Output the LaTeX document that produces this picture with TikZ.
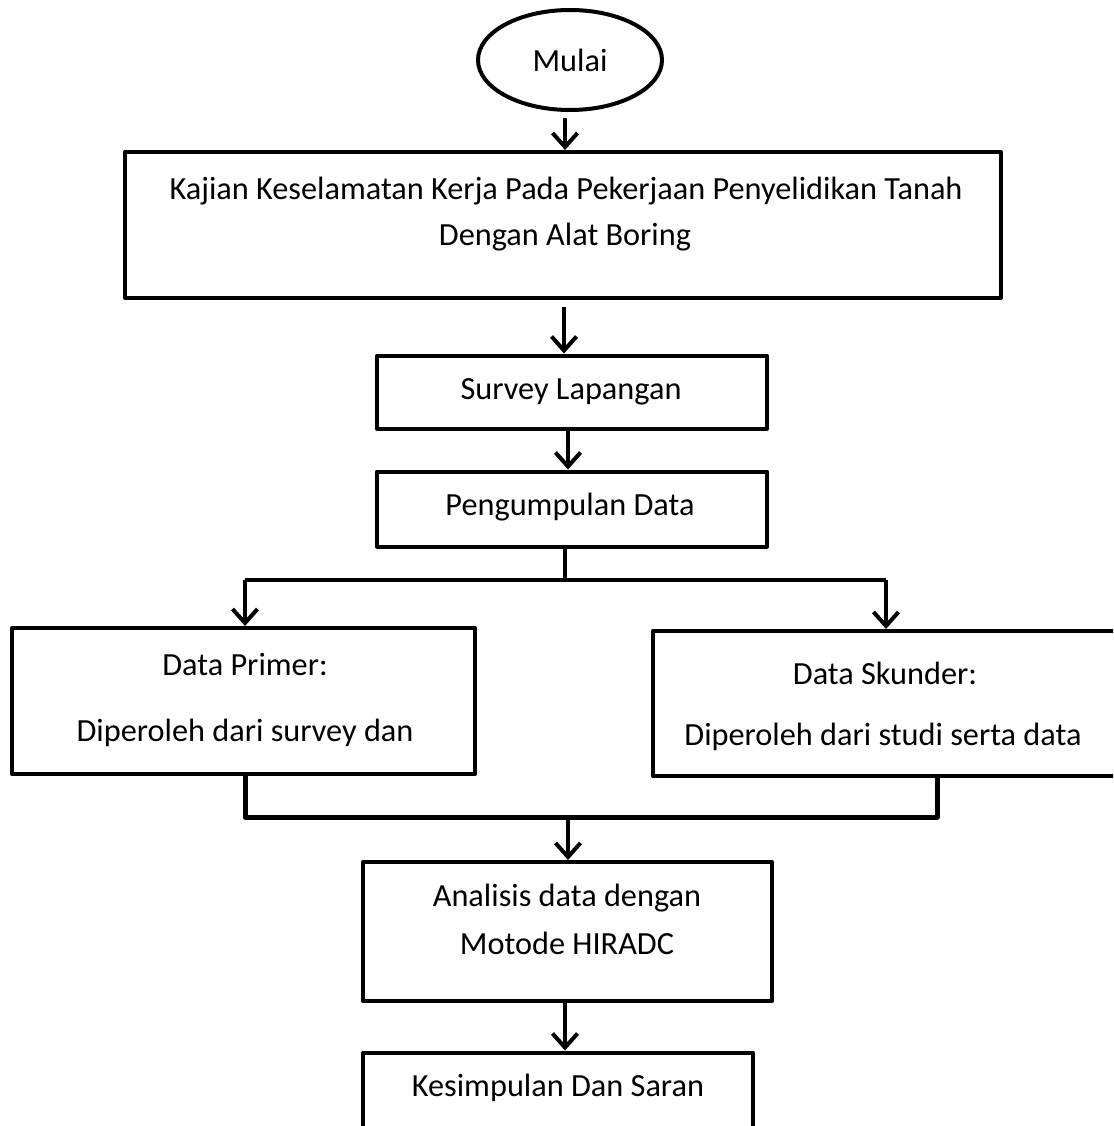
\documentclass[tikz,border=0pt]{standalone}
\usepackage{fontspec}
\setmainfont{Carlito}
\usetikzlibrary{arrows.meta,shapes.geometric,calc}
\tikzset{
  box/.style={draw, line width=4pt, rectangle, inner sep=0pt},
  lbl/.style={inner sep=0pt, font=\fontsize{32.3}{38}\selectfont, anchor=center},
  arr/.style={line width=4pt, -{Straight Barb[length=14pt,width=25pt,line width=4pt]}},
  conn/.style={line width=4pt},
}
\begin{document}
\begin{tikzpicture}[x=1pt,y=-1pt, line join=round]
\useasboundingbox (0,0) rectangle (1113,1126);
\clip (0,0) rectangle (1113,1126);
% shapes
\node[draw, ellipse, line width=4pt, minimum width=184pt, minimum height=100pt, inner sep=0pt] (mulai) at (570,60) {};
\node[lbl] (tmulai) at (570,60) {Mulai};
\node[box, minimum width=876pt, minimum height=146pt] (kajian) at (563,225) {};
\node[lbl] (tkajian1) at (566,191) {Kajian Keselamatan Kerja Pada Pekerjaan Penyelidikan Tanah};
\node[lbl] (tkajian2) at (565,237) {Dengan Alat Boring};
\node[box, minimum width=390pt, minimum height=73pt] (survey) at (572,392) {};
\node[lbl] (tsurvey) at (571,392) {Survey Lapangan};
\node[box, minimum width=390pt, minimum height=75pt] (kumpul) at (572,509) {};
\node[lbl] (tkumpul) at (570,507) {Pengumpulan Data};
\node[box, minimum width=463pt, minimum height=146pt] (primer) at (243.5,701) {};
\node[lbl] (tprimer1) at (245,665) {Data Primer:};
\node[lbl] (tprimer2) at (245,733) {Diperoleh dari survey dan};
\node[box, minimum width=472pt, minimum height=145pt] (skunder) at (889,703.5) {};
\node[lbl] (tskunder1) at (885,673) {Data Skunder:};
\node[lbl] (tskunder2) at (883,737) {Diperoleh dari studi serta data};
\node[box, minimum width=409pt, minimum height=139pt] (analisis) at (567.5,931.5) {};
\node[lbl] (tanalisis1) at (567,898) {Analisis data dengan};
\node[lbl] (tanalisis2) at (567,943) {Motode HIRADC};
\node[box, minimum width=390pt, minimum height=107pt] (simpul) at (558,1106) {};
\node[lbl] (tsimpul) at (558,1088) {Kesimpulan Dan Saran};
% coordinates
\coordinate (ja) at (565,118);
\coordinate (jb) at (564,307);
\coordinate (split) at (565,580);
\coordinate (sl) at (245,580);
\coordinate (sr) at (886,580);
\coordinate (ml) at (245,817);
\coordinate (mc) at (568,817);
\coordinate (mr) at (937,817);
\coordinate (jc) at (565,1001);
% connectors
\draw[arr] (ja) -- (ja |- kajian.north);
\draw[arr] (jb) -- (jb |- survey.north);
\draw[arr] (survey.south -| 568,0) -- (kumpul.north -| 568,0);
\draw[conn] (kumpul.south -| split) -- (split);
\draw[conn] (sl) -- (sr);
\draw[arr] (sl) -- (sl |- primer.north);
\draw[arr] (sr) -- (sr |- skunder.north);
\draw[line width=5pt] (ml |- primer.south) -- (ml) -- (mr) -- (mr |- skunder.south);
\draw[arr] (mc) -- (mc |- analisis.north);
\draw[arr] (jc |- analisis.south) -- (jc |- simpul.north);
\end{tikzpicture}
\end{document}
